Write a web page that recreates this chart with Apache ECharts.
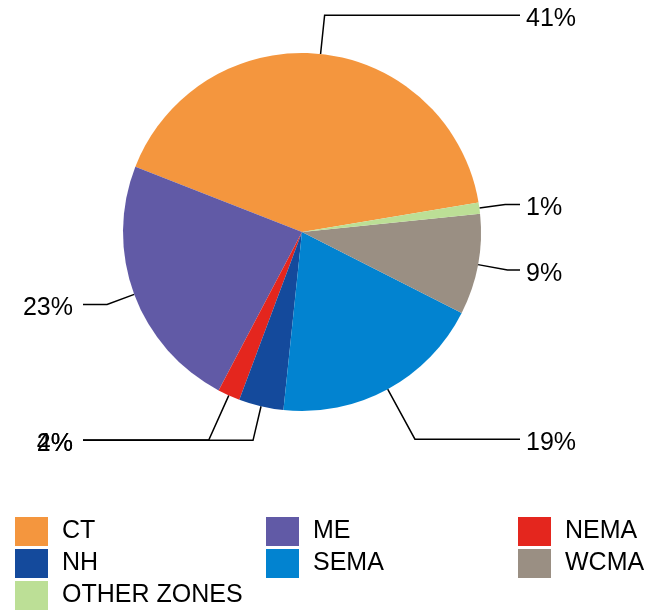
<!DOCTYPE html>
<html>
<head>
<meta charset="utf-8">
<script src="https://cdn.jsdelivr.net/npm/echarts@6/dist/echarts.min.js"></script>
<style>
  html, body { margin: 0; padding: 0; background: #fff; }
  #chart { width: 662px; height: 610px; }
</style>
</head>
<body>
<div id="chart"></div>
<script>
// Share of load by zone (percent)
const categories = ['CT', 'ME', 'NEMA', 'NH', 'SEMA', 'WCMA', 'OTHER ZONES'];
const shares = [41, 23, 2, 4, 19, 9, 1];

// Slice colours, in category order
const palette = ['#F4963E', '#615AA6', '#E4261E', '#144A9C', '#0283D0', '#9A8F83', '#BCDF96'];

// Length of the first (radial) leader segment for each slice label
const leaderLength = { 'CT': 39, 'ME': 29, 'NEMA': 49, 'NH': 35, 'SEMA': 57, 'WCMA': 30, 'OTHER ZONES': 26 };

// Horizontal leader segments end at these x positions on each side
const LINE_END_RIGHT = 520;
const LINE_END_LEFT = 83;

const FONT = "'Liberation Sans', Arial, sans-serif";

const chart = echarts.init(document.getElementById('chart'), null, { renderer: 'canvas' });

const pieData = categories.map((name, i) => ({
  name: name,
  value: shares[i],
  itemStyle: { color: palette[i] },
  labelLine: { length: leaderLength[name] }
}));

// Legend laid out as three columns
const legendColumns = [0, 1, 2].map(c => categories.filter((_, i) => i % 3 === c));
const legendLeft = [15, 266, 518];

const option = {
  animation: false,
  backgroundColor: '#ffffff',
  legend: legendColumns.map((names, c) => ({
    data: names,
    orient: 'vertical',
    left: legendLeft[c],
    top: 517,
    padding: 0,
    itemWidth: 33,
    itemHeight: 29,
    itemGap: 3,
    icon: 'rect',
    selectedMode: false,
    textStyle: {
      fontFamily: FONT,
      fontSize: 25,
      color: '#000',
      lineHeight: 29,
      padding: [0, 0, 0, 9]
    }
  })),
  series: [{
    type: 'pie',
    center: [302, 232],
    radius: 179,
    startAngle: 9.5,
    clockwise: false,
    avoidLabelOverlap: false,
    silent: true,
    itemStyle: { borderWidth: 0 },
    label: {
      show: true,
      position: 'outside',
      formatter: '{c}%',
      fontFamily: FONT,
      fontSize: 25,
      color: '#000'
    },
    labelLine: {
      show: true,
      length: 28,
      length2: 15,
      smooth: false,
      lineStyle: { color: '#000', width: 1.5 }
    },
    labelLayout: function (p) {
      const pts = p.labelLinePoints;
      if (!pts || pts.length < 3) return {};
      const knee = pts[1];
      const isRight = pts[2][0] >= knee[0];
      const endX = isRight ? LINE_END_RIGHT : LINE_END_LEFT;
      return {
        x: endX + (isRight ? 6 : -10),
        y: knee[1] + 4,
        align: isRight ? 'left' : 'right',
        verticalAlign: 'middle',
        labelLinePoints: [pts[0], knee, [endX, knee[1]]]
      };
    },
    data: pieData
  }]
};

chart.setOption(option);
</script>
</body>
</html>
